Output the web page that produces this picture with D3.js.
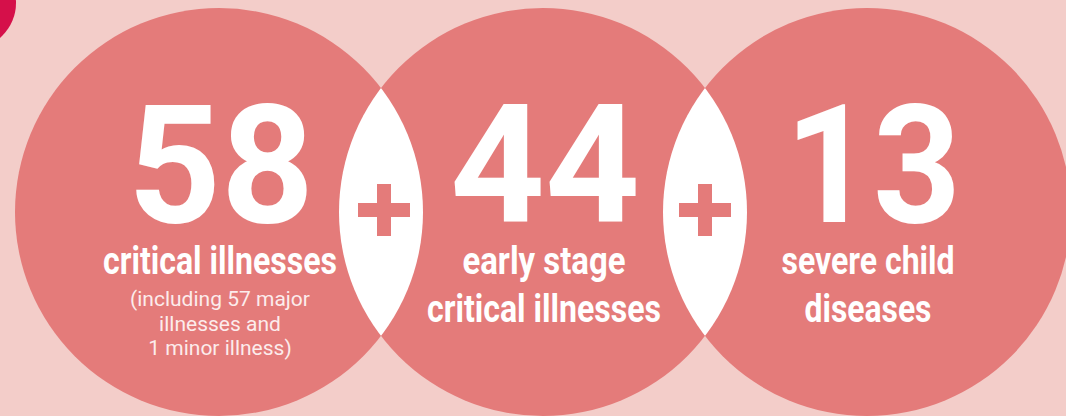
<!DOCTYPE html>
<html>
<head>
<meta charset="utf-8">
<script src="https://cdn.jsdelivr.net/npm/d3@7"></script>
<style>
  html, body { margin: 0; padding: 0; background: #f3cdc9; }
  svg { display: block; }
</style>
</head>
<body>
<svg id="chart" width="1066" height="416"></svg>
<script>
// ---- data ----
const counts = ["58", "44", "13"];
const labels = [
  ["critical illnesses"],
  ["early stage", "critical illnesses"],
  ["severe child", "diseases"]
];
const notes = [
  ["(including 57 major", "illnesses and", "1 minor illness)"],
  [],
  []
];

// ---- layout ----
const W = 1066, H = 416;
const R = 204, CY = 212;
const BG = "#f3cdc9", CIRCLE = "#e47b7a", ACCENT = "#d5104a";

const svg = d3.select("#chart");
const x = d3.scaleLinear().domain([0, counts.length - 1]).range([219, 867]);

svg.append("rect").attr("width", W).attr("height", H).attr("fill", BG);

// corner accent
svg.append("circle").attr("cx", -30).attr("cy", 3).attr("r", 46).attr("fill", ACCENT);

const defs = svg.append("defs");
counts.forEach((d, i) => {
  defs.append("clipPath").attr("id", "clip" + i)
    .append("circle").attr("cx", x(i)).attr("cy", CY).attr("r", R);
});

// circles
svg.selectAll("circle.main").data(counts).join("circle")
  .attr("class", "main")
  .attr("cx", (d, i) => x(i)).attr("cy", CY).attr("r", R)
  .attr("fill", CIRCLE);

// lenses (intersections) in white
const pairs = d3.range(counts.length - 1);
svg.selectAll("circle.lens").data(pairs).join("circle")
  .attr("class", "lens")
  .attr("cx", i => x(i + 1)).attr("cy", CY).attr("r", R)
  .attr("clip-path", i => `url(#clip${i})`)
  .attr("fill", "#ffffff");

// plus signs
const arm = 26, th = 7;
pairs.forEach(i => {
  const cx = (x(i) + x(i + 1)) / 2 + (i === 0 ? 3 : 0);
  const g = svg.append("g").attr("transform", `translate(${cx},${CY - 2})`);
  g.append("rect").attr("x", -arm).attr("y", -th).attr("width", arm * 2).attr("height", th * 2).attr("fill", CIRCLE);
  g.append("rect").attr("x", -th).attr("y", -arm).attr("width", th * 2).attr("height", arm * 2).attr("fill", CIRCLE);
});

// big numbers
const numW = [186, 190, 176];
svg.selectAll("text.num").data(counts).join("text")
  .attr("class", "num")
  .attr("x", (d, i) => x(i) + (i === 2 ? 6 : 2))
  .attr("y", 222)
  .attr("text-anchor", "middle")
  .attr("font-family", "Roboto, 'Noto Sans', sans-serif")
  .attr("font-weight", 700)
  .attr("font-size", 166)
  .attr("fill", "#ffffff")
  .attr("textLength", (d, i) => numW[i])
  .attr("lengthAdjust", "spacingAndGlyphs")
  .text(d => d);

// labels
const labelW = {
  "critical illnesses": 234,
  "early stage": 163,
  "severe child": 173,
  "diseases": 127
};
labels.forEach((lines, i) => {
  lines.forEach((t, j) => {
    svg.append("text")
      .attr("x", x(i) + 1)
      .attr("y", 274 + j * 48)
      .attr("text-anchor", "middle")
      .attr("font-family", "Roboto, 'Noto Sans', sans-serif")
      .attr("font-weight", 700)
      .attr("font-size", 38)
      .attr("fill", "#ffffff")
      .attr("textLength", labelW[t])
      .attr("lengthAdjust", "spacingAndGlyphs")
      .text(t);
  });
});

// notes
notes.forEach((lines, i) => {
  lines.forEach((t, j) => {
    svg.append("text")
      .attr("x", x(i) + 1)
      .attr("y", 306 + j * 24.5)
      .attr("text-anchor", "middle")
      .attr("font-family", "Roboto, 'Noto Sans', sans-serif")
      .attr("font-weight", 400)
      .attr("font-size", 21)
      .attr("fill", "#fcecec")
      .text(t);
  });
});
</script>
</body>
</html>
